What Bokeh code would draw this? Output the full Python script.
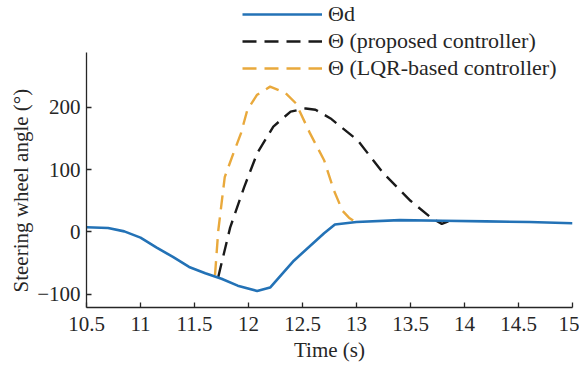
from bokeh.plotting import figure
from bokeh.models import Range1d, FixedTicker, Legend, LegendItem, Title
from bokeh.embed import file_html
from bokeh.resources import INLINE

# Desired steering wheel angle
t_d = [10.5, 10.7, 10.85, 11.0, 11.15, 11.3, 11.45, 11.6, 11.75, 11.9, 12.08,
       12.2, 12.42, 12.7, 12.8, 13.0, 13.4, 13.8, 14.2, 14.6, 15.0]
theta_d = [7.5, 6.5, 1, -9, -25, -40, -56, -66, -75, -86, -94.5,
           -89, -46, -2, 12, 16, 19, 18, 17, 16, 14]

# Proposed controller
t_prop = [11.72, 11.83, 11.96, 12.08, 12.23, 12.39, 12.53, 12.62, 12.76,
          13.01, 13.25, 13.5, 13.69, 13.79, 13.85]
theta_prop = [-72, 7, 72, 126, 169, 193, 198, 196, 182,
              147, 94, 50, 23, 13, 17]

# LQR-based controller
t_lqr = [11.69, 11.72, 11.75, 11.78, 11.86, 11.93, 11.99, 12.08, 12.2, 12.34,
         12.44, 12.57, 12.70, 12.79, 12.87, 12.93, 12.98]
theta_lqr = [-69, 2, 45, 88, 126, 158, 196, 220, 233, 223,
             206, 158, 115, 67, 34, 23, 17]

x_ticks = [10.5, 11, 11.5, 12, 12.5, 13, 13.5, 14, 14.5, 15]
x_tick_labels = ["10.5", "11", "11.5", "12", "12.5", "13", "13.5", "14", "14.5", "15"]
y_ticks = [-100, 0, 100, 200]
y_tick_labels = ["\u2212100", "0", "100", "200"]
legend_labels = ["\u0398d", "\u0398 (proposed controller)", "\u0398 (LQR-based controller)"]

FONT = "'Liberation Serif', 'Times New Roman', 'DejaVu Serif', serif"
AX = "#262626"

p = figure(width=579, height=367, output_backend="svg", toolbar_location=None,
           x_range=Range1d(10.5, 15), y_range=Range1d(-121, 371),
           min_border_left=86, min_border_right=7, min_border_top=0,
           min_border_bottom=60)
p.grid.visible = False
p.outline_line_color = None
p.background_fill_color = "white"
p.border_fill_color = "white"

r_p = p.line(t_prop, theta_prop, line_color="#1a1a1a", line_width=2.4, line_dash="14 8")
r_l = p.line(t_lqr, theta_lqr, line_color="#E9A93C", line_width=2.4, line_dash="14 8")
r_d = p.line(t_d, theta_d, line_color="#2372B6", line_width=2.6)

for ax, ticks, labels in ((p.xaxis[0], x_ticks, x_tick_labels), (p.yaxis[0], y_ticks, y_tick_labels)):
    ax.ticker = FixedTicker(ticks=ticks)
    ax.major_label_overrides = {t: l for t, l in zip(ticks, labels)}
    ax.minor_tick_line_color = None
    ax.major_tick_in = 5
    ax.major_tick_out = 0
    ax.axis_line_color = AX
    ax.axis_line_width = 1.3
    ax.major_tick_line_color = AX
    ax.major_tick_line_width = 1.3
    ax.major_label_text_font = FONT
    ax.major_label_text_font_size = "21px"
    ax.major_label_text_color = AX
    ax.axis_label_text_font = FONT
    ax.axis_label_text_font_size = "21px"
    ax.axis_label_text_font_style = "normal"
    ax.axis_label_text_color = AX
    ax.major_label_standoff = 6

p.xaxis[0].major_label_standoff = 9
p.yaxis[0].bounds = (-121, 288)
p.xaxis[0].axis_label = "Time (s)"
p.xaxis[0].axis_label_standoff = 4

ylabel = Title(text="Steering wheel angle (\u00b0)", align="left", offset=15,
               standoff=3, text_font=FONT, text_font_size="21px",
               text_font_style="normal", text_color=AX)
p.add_layout(ylabel, "left")

legend = Legend(items=[LegendItem(label=legend_labels[0], renderers=[r_d]),
                       LegendItem(label=legend_labels[1], renderers=[r_p]),
                       LegendItem(label=legend_labels[2], renderers=[r_l])],
                location=(156, 226))
legend.background_fill_alpha = 0
legend.border_line_alpha = 0
legend.padding = 0
legend.margin = 0
legend.spacing = 1
legend.glyph_width = 80
legend.glyph_height = 26
legend.label_height = 26
legend.label_standoff = 6
legend.label_text_font = FONT
legend.label_text_font_size = "22px"
legend.label_text_color = AX
p.add_layout(legend)

open("out.html", "w").write(file_html(p, INLINE))
